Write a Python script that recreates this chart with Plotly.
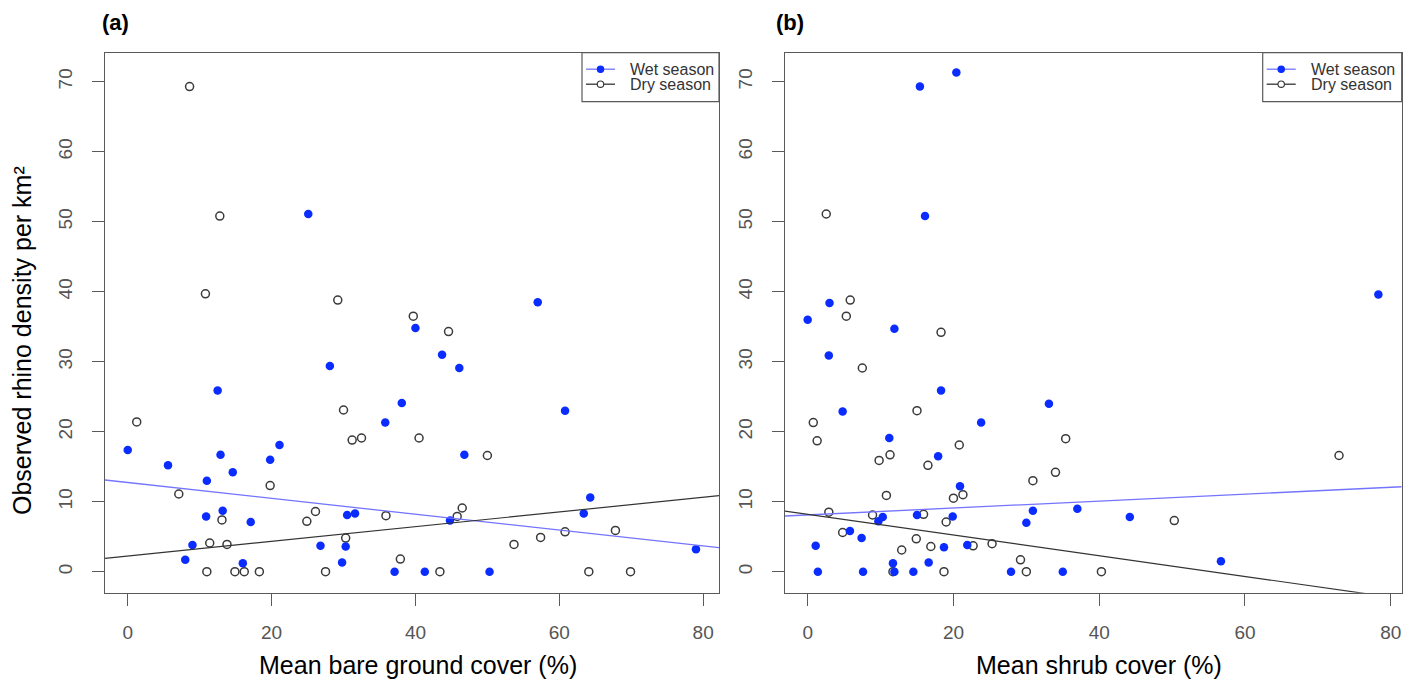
import plotly.graph_objects as go

# ---------------- data ----------------
# Panel (a): mean bare ground cover (%)
bare_wet_x = [25.1, 57.0, 40.0, 28.1, 12.5, 38.1, 35.8, 0.0, 21.1, 19.8, 5.6, 12.9,
              14.6, 11.0, 13.2, 10.9, 17.1, 30.5, 31.6, 9.0, 8.0, 16.0, 26.8, 30.3,
              29.8, 37.1, 43.7, 46.1, 60.8, 46.8, 64.3, 63.4, 44.8, 79.0, 41.3, 50.3]
bare_wet_y = [51.1, 38.5, 34.8, 29.4, 25.9, 24.1, 21.3, 17.4, 18.1, 16.0, 15.2, 16.7,
              14.2, 13.0, 8.7, 7.9, 7.1, 8.1, 8.3, 3.8, 1.7, 1.2, 3.7, 3.6,
              1.3, 0.0, 31.0, 29.1, 23.0, 16.7, 10.6, 8.3, 7.3, 3.2, 0.0, 0.0]
bare_dry_x = [8.6, 12.8, 10.8, 29.2, 39.7, 1.25, 30.0, 31.2, 32.5, 40.5, 7.1, 19.8,
              13.1, 24.9, 26.1, 35.9, 30.3, 11.4, 13.8, 37.9, 11.0, 14.9, 16.2, 18.3,
              27.5, 44.6, 50.0, 46.5, 45.8, 53.7, 57.4, 60.8, 67.8, 43.4, 64.1, 69.9]
bare_dry_y = [69.3, 50.8, 39.7, 38.8, 36.5, 21.4, 23.1, 18.8, 19.1, 19.1, 11.1, 12.3,
              7.4, 7.2, 8.6, 8.0, 4.8, 4.1, 3.9, 1.8, 0.0, 0.0, 0.0, 0.0,
              0.0, 34.3, 16.6, 9.1, 7.9, 3.9, 4.9, 5.7, 5.9, 0.0, 0.0, 0.0]

# Panel (b): mean shrub cover (%)
shrub_wet_x = [20.4, 15.4, 16.1, 3.0, 0.0, 78.3, 11.9, 2.9, 18.3, 4.8, 33.1, 23.8,
               11.2, 17.9, 20.9, 10.3, 9.7, 15.0, 19.9, 30.9, 30.0, 37.0, 5.8, 7.4,
               1.1, 18.7, 21.9, 11.7, 16.6, 1.4, 7.6, 11.9, 14.5, 27.9, 35.0, 44.2, 56.7]
shrub_wet_y = [71.3, 69.3, 50.8, 38.4, 36.0, 39.6, 34.7, 30.9, 25.9, 22.9, 24.0, 21.3,
               19.1, 16.5, 12.2, 7.8, 7.2, 8.1, 7.9, 8.7, 7.0, 9.0, 5.8, 4.8,
               3.7, 3.5, 3.8, 1.2, 1.3, 0.0, 0.0, 0.0, 0.0, 0.0, 0.0, 7.8, 1.5]
shrub_dry_x = [2.55, 5.84, 5.3, 18.3, 7.5, 15.0, 0.77, 1.3, 20.8, 35.4, 9.8, 11.3,
               16.5, 34.0, 30.9, 20.0, 21.3, 10.8, 2.9, 8.9, 15.9, 19.0, 4.8, 14.9,
               12.9, 16.9, 22.7, 25.3, 29.2, 11.7, 18.7, 30.0, 40.3, 72.9, 50.3]
shrub_dry_y = [51.1, 38.8, 36.5, 34.2, 29.1, 23.0, 21.3, 18.7, 18.1, 19.0, 15.9, 16.7,
               15.2, 14.2, 13.0, 10.5, 11.0, 10.9, 8.5, 8.1, 8.2, 7.1, 5.6, 4.7,
               3.1, 3.6, 3.7, 4.0, 1.7, 0.0, 0.0, 0.0, 0.0, 16.6, 7.3]

# fitted lines (intercept, slope)
bare_wet_fit = (12.74, -0.1133)
bare_dry_fit = (2.24, 0.1049)
shrub_wet_fit = (8.11, 0.0494)
shrub_dry_fit = (8.2, -0.148)

x_ticks = [0, 20, 40, 60, 80]
y_ticks = [0, 10, 20, 30, 40, 50, 60, 70]
xrange_a = [-3.16, 82.2]
xrange_b = [-3.11, 81.5]
yrange = [-3.0, 74.14]

series_names = ["Wet season", "Dry season"]
x_titles = ["Mean bare ground cover (%)", "Mean shrub cover (%)"]
y_title = "Observed rhino density per km²"
panel_labels = ["(a)", "(b)"]

# ---------------- styling ----------------
W, H = 1416, 682
FONT = "Liberation Sans, Arial, Helvetica, sans-serif"
BLUE = "#0a2cff"
BLUE_LINE = "#7474ff"
DARK = "#3a3a3a"
FRAME = "#5a5a5a"

# panel frames in pixels
pa = dict(l=105, r=719)
pb = dict(l=785, r=1401.7)
top_px, bot_px = 52.7, 592.7

def px2x(p):
    return p / W

def py2y(p):
    return 1 - p / H

fig = go.Figure()

def add_panel(xw, yw, xd, yd, wfit, dfit, xr, xa, ya):
    fig.add_trace(go.Scatter(x=xd, y=yd, mode="markers", xaxis=xa, yaxis=ya,
                             marker=dict(symbol="circle-open", size=8, color=DARK,
                                         line=dict(width=1.5, color=DARK)),
                             showlegend=False, hoverinfo="skip"))
    fig.add_trace(go.Scatter(x=xw, y=yw, mode="markers", xaxis=xa, yaxis=ya,
                             marker=dict(symbol="circle", size=8.5, color=BLUE,
                                         line=dict(width=0)),
                             showlegend=False, hoverinfo="skip"))
    lx = [xr[0], xr[1]]
    fig.add_trace(go.Scatter(x=lx, y=[wfit[0] + wfit[1] * v for v in lx], mode="lines",
                             xaxis=xa, yaxis=ya, line=dict(color=BLUE_LINE, width=1.3),
                             showlegend=False, hoverinfo="skip"))
    fig.add_trace(go.Scatter(x=lx, y=[dfit[0] + dfit[1] * v for v in lx], mode="lines",
                             xaxis=xa, yaxis=ya, line=dict(color="#333333", width=1.2),
                             showlegend=False, hoverinfo="skip"))

add_panel(bare_wet_x, bare_wet_y, bare_dry_x, bare_dry_y, bare_wet_fit, bare_dry_fit,
          xrange_a, "x", "y")
add_panel(shrub_wet_x, shrub_wet_y, shrub_dry_x, shrub_dry_y, shrub_wet_fit, shrub_dry_fit,
          xrange_b, "x2", "y2")

ax_common = dict(showgrid=False, zeroline=False, showline=True, mirror=True,
                 linecolor=FRAME, linewidth=1.3, ticks="outside", ticklen=12,
                 tickcolor=FRAME, tickwidth=1.2,
                 tickfont=dict(family=FONT, size=19, color="#555555"))

ydom = [py2y(bot_px), py2y(top_px)]
fig.update_layout(
    width=W, height=H, margin=dict(l=0, r=0, t=0, b=0),
    paper_bgcolor="white", plot_bgcolor="white", showlegend=False,
    xaxis=dict(domain=[px2x(pa["l"]), px2x(pa["r"])], range=xrange_a,
               tickvals=x_ticks, ticklabelstandoff=10, anchor="y", **ax_common),
    yaxis=dict(domain=ydom, range=yrange, tickvals=y_ticks, tickangle=-90,
               ticklabelstandoff=12, anchor="x", **ax_common),
    xaxis2=dict(domain=[px2x(pb["l"]), px2x(pb["r"])], range=xrange_b,
                tickvals=x_ticks, ticklabelstandoff=10, anchor="y2", **ax_common),
    yaxis2=dict(domain=ydom, range=yrange, tickvals=y_ticks, tickangle=-90,
                ticklabelstandoff=12, anchor="x2", **ax_common),
)

annotations = []
shapes = []

# axis titles and panel labels
for panel, xt, lab, lab_x in [(pa, x_titles[0], panel_labels[0], 116), (pb, x_titles[1], panel_labels[1], 790)]:
    cx = (panel["l"] + panel["r"]) / 2 + 6
    annotations.append(dict(text=xt, x=px2x(cx), y=py2y(665), xref="paper", yref="paper",
                            showarrow=False, xanchor="center", yanchor="middle",
                            font=dict(family=FONT, size=25, color="black")))
    annotations.append(dict(text="<b>" + lab + "</b>", x=px2x(lab_x), y=py2y(23),
                            xref="paper", yref="paper", showarrow=False,
                            xanchor="center", yanchor="middle",
                            font=dict(family=FONT, size=22, color="black")))

annotations.append(dict(text=y_title, x=px2x(22), y=py2y(341), xref="paper", yref="paper",
                        showarrow=False, textangle=-90, xanchor="center", yanchor="middle",
                        font=dict(family=FONT, size=25, color="black")))

# manual legends (top-right inside each panel)
def add_legend(panel, xa, ya, box_w):
    pw = panel["r"] - panel["l"]
    ph = bot_px - top_px
    fx = lambda px: 1 - px / pw          # px measured from right edge
    fy = lambda py: 1 - py / ph          # py measured from top edge
    xd, yd = xa + " domain", ya + " domain"
    shapes.append(dict(type="rect", xref=xd, yref=yd, x0=fx(box_w), x1=1, y0=fy(49), y1=1,
                       line=dict(color=FRAME, width=1.2), fillcolor="white", layer="above"))
    rows = [(16.5, BLUE_LINE, BLUE, BLUE, series_names[0]),
            (31.5, "#333333", "white", "#333333", series_names[1])]
    for ry, lc, fill, mc, name in rows:
        shapes.append(dict(type="line", xref=xd, yref=yd, x0=fx(box_w - 4), x1=fx(box_w - 33),
                           y0=fy(ry), y1=fy(ry), line=dict(color=lc, width=1.3), layer="above"))
        shapes.append(dict(type="circle", xref=xd, yref=yd, xsizemode="pixel", ysizemode="pixel",
                           xanchor=fx(box_w - 18.5), yanchor=fy(ry), x0=-3.2, x1=3.2, y0=-3.2, y1=3.2,
                           fillcolor=fill, line=dict(color=mc, width=1.1), layer="above"))
        annotations.append(dict(text=name, xref=xd, yref=yd, x=fx(box_w - 46), y=fy(ry),
                                xanchor="left", yanchor="middle", showarrow=False,
                                font=dict(family=FONT, size=16, color="#333333")))

add_legend(pa, "x", "y", 137)
add_legend(pb, "x2", "y2", 139)

fig.update_layout(annotations=annotations, shapes=shapes)
fig.write_html("out.html")
